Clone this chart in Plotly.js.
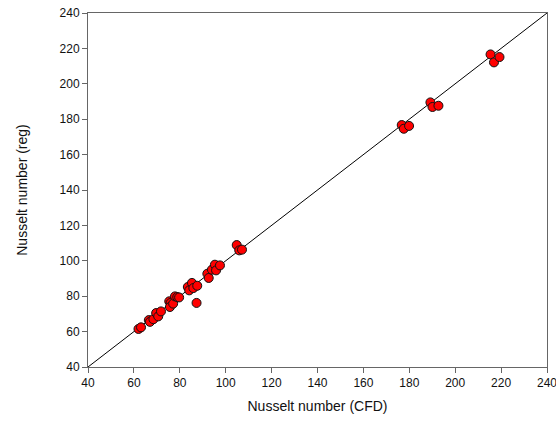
<!DOCTYPE html>
<html>
<head>
<meta charset="utf-8">
<script src="https://cdn.plot.ly/plotly-3.0.1.min.js"></script>
<style>html,body{margin:0;padding:0;background:#fff;overflow:hidden;}#chart{width:556px;height:429px;}</style>
</head>
<body>
<div id="chart"></div>
<script>
const nuCFD = [62.0, 63.1, 66.5, 67.0, 68.5, 69.7, 70.6, 71.8, 75.4, 76.0, 75.7, 77.1, 77.9, 78.9, 79.7,
  83.5, 84.1, 85.3, 85.9, 87.6, 87.3, 92.0, 92.6, 94.0, 95.3, 95.8, 97.5,
  104.8, 105.9, 107.1, 176.7, 177.6, 179.9, 189.2, 190.1, 192.7, 215.4, 216.9, 219.3];
const nuReg = [61.5, 62.4, 66.5, 65.5, 67.0, 70.5, 68.6, 71.4, 77.1, 76.2, 73.9, 75.8, 79.9, 79.5, 79.3,
  85.2, 83.3, 87.5, 84.6, 85.9, 76.2, 92.7, 90.3, 95.0, 97.8, 94.6, 97.4,
  108.9, 105.9, 106.3, 176.7, 174.6, 176.2, 189.5, 186.9, 187.6, 216.6, 212.1, 215.1];
const lineX = [40, 240];
const lineY = [40, 240];
const tickVals = [40, 60, 80, 100, 120, 140, 160, 180, 200, 220, 240];

const fam = 'Liberation Sans, Arial';
const axisCommon = {
  range: [40, 240.001], tickvals: tickVals, ticks: 'outside', ticklen: 5, tickwidth: 1,
  tickcolor: '#666', showline: true, linecolor: '#666', linewidth: 1, mirror: true,
  showgrid: false, zeroline: false, ticklabeloverflow: 'allow',
  tickfont: {family: fam, size: 12, color: '#111'}
};

Plotly.newPlot('chart', [
  {x: lineX, y: lineY, mode: 'lines', line: {color: '#000', width: 1}, hoverinfo: 'skip'},
  {x: nuCFD, y: nuReg, mode: 'markers', marker: {color: '#ff0000', size: 9, line: {color: '#111', width: 1}}}
], {
  width: 556, height: 429, showlegend: false,
  margin: {l: 88, r: 9, t: 13, b: 62},
  paper_bgcolor: '#fff', plot_bgcolor: '#fff',
  xaxis: Object.assign({}, axisCommon, {title: {text: 'Nusselt number (CFD)', standoff: 11, font: {family: fam, size: 14, color: '#111'}}}),
  yaxis: Object.assign({}, axisCommon, {title: {text: 'Nusselt number (reg)', standoff: 28, font: {family: fam, size: 14, color: '#111'}}})
}, {staticPlot: true});
</script>
</body>
</html>
